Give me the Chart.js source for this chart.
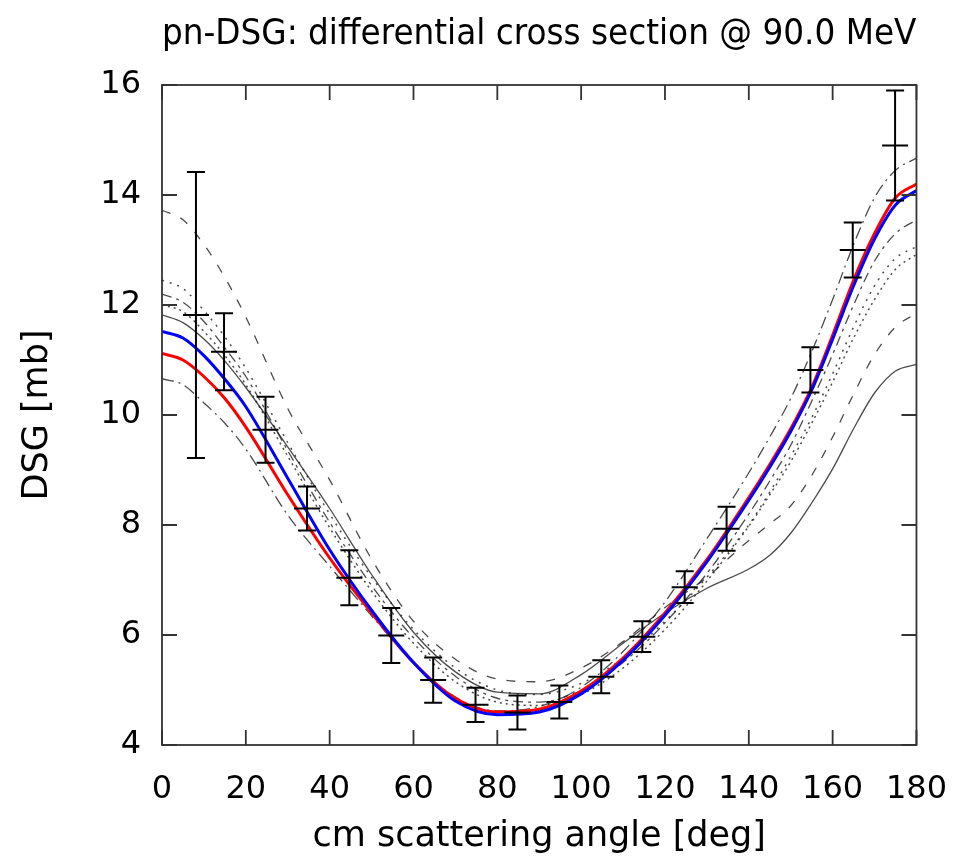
<!DOCTYPE html>
<html>
<head>
<meta charset="utf-8">
<script src="https://cdn.jsdelivr.net/npm/chart.js@4/dist/chart.umd.min.js"></script>
<style>
  html, body { margin: 0; padding: 0; background: #fff; }
</style>
</head>
<body>
<canvas id="c" width="972" height="860"></canvas>
<script>
// model curves: denser samples near 0 and 180 deg where they bend
const angles = [0, 5, 10, 15, 20, 30, 40, 50, 60, 70, 80, 90, 100, 110, 120, 130, 140, 145, 150, 155, 160, 165, 170, 175, 180];
const fitRed  = [11.12, 11.0, 10.7, 10.3, 9.78, 8.55, 7.4, 6.4, 5.5, 4.85, 4.6, 4.65, 4.98, 5.58, 6.4, 7.37, 8.5, 9.1, 9.75, 10.5, 11.45, 12.45, 13.3, 13.95, 14.2];
const fitBlue = [11.52, 11.4, 11.08, 10.65, 10.15, 8.85, 7.55, 6.45, 5.5, 4.8, 4.55, 4.6, 4.93, 5.54, 6.36, 7.33, 8.45, 9.05, 9.7, 10.45, 11.38, 12.35, 13.2, 13.82, 14.08];
const modelDashed  = [13.72, 13.55, 13.1, 12.5, 11.78, 10.12, 8.82, 7.38, 6.25, 5.56, 5.2, 5.15, 5.4, 5.88, 6.5, 7.05, 7.72, 8.02, 8.35, 8.9, 9.6, 10.38, 11.1, 11.6, 11.85];
const modelSolid   = [11.82, 11.68, 11.38, 10.98, 10.5, 9.42, 8.3, 7.1, 6.05, 5.33, 4.96, 4.93, 5.28, 5.85, 6.4, 6.85, 7.2, 7.45, 7.85, 8.4, 9.02, 9.75, 10.4, 10.8, 10.92];
const modelDotted  = [12.45, 12.3, 11.9, 11.42, 10.85, 9.5, 8.2, 7.05, 6.1, 5.4, 5.0, 4.92, 5.12, 5.58, 6.25, 7.05, 8.0, 8.6, 9.25, 9.95, 10.75, 11.6, 12.35, 12.85, 13.06];
const modelDotted2 = [12.0, 11.88, 11.52, 11.08, 10.55, 9.25, 7.95, 6.8, 5.85, 5.15, 4.78, 4.72, 4.92, 5.4, 6.1, 6.98, 7.98, 8.55, 9.15, 9.85, 10.6, 11.4, 12.1, 12.65, 12.92];
const modelDashDot = [12.2, 12.05, 11.7, 11.22, 10.7, 9.35, 8.05, 6.9, 5.95, 5.25, 4.85, 4.78, 5.0, 5.5, 6.22, 7.12, 8.2, 8.8, 9.45, 10.25, 11.1, 12.0, 12.8, 13.3, 13.55];
const modelDashDot2 = [10.66, 10.55, 10.22, 9.85, 9.38, 8.18, 7.25, 6.35, 5.5, 4.87, 4.62, 4.7, 5.05, 5.7, 6.6, 7.75, 8.95, 9.6, 10.3, 11.15, 12.1, 13.1, 13.95, 14.45, 14.67];

// measured points with errors
const expAngle = [8.1, 14.8, 24.7, 34.6, 44.7, 54.7, 64.7, 74.8, 84.8, 94.8, 104.8, 114.6, 124.7, 134.7, 154.7, 164.8, 174.9];
const expValue = [11.82, 11.15, 9.73, 8.30, 7.04, 5.99, 5.18, 4.73, 4.59, 4.78, 5.24, 5.97, 6.87, 7.93, 10.82, 13.0, 14.9];
const expError = [2.6, 0.7, 0.6, 0.4, 0.5, 0.5, 0.41, 0.31, 0.31, 0.3, 0.3, 0.28, 0.29, 0.4, 0.41, 0.5, 1.0];

const xTicks = [0, 20, 40, 60, 80, 100, 120, 140, 160, 180];
const yTicks = [4, 6, 8, 10, 12, 14, 16];

const FONT = 'DejaVu Sans';

function pts(vals) {
  return angles.map((a, i) => ({ x: a, y: vals[i] }));
}

function curve(vals, color, width, dash, order) {
  return {
    data: pts(vals),
    borderColor: color,
    borderWidth: width,
    borderDash: dash,
    pointRadius: 0,
    showLine: true,
    fill: false,
    cubicInterpolationMode: 'monotone',
    order: order
  };
}

const gray = 'rgba(30,30,30,0.8)';

const datasets = [
  {
    data: expAngle.map((a, i) => ({ x: a, y: expValue[i] })),
    pointStyle: 'line',
    pointRadius: 13,
    pointBorderWidth: 2,
    pointBorderColor: '#000',
    showLine: false,
    order: -1
  },
  curve(fitBlue, '#0000ff', 3, [], 0),
  curve(fitRed, '#ff0000', 3, [], 1),
  curve(modelDashed, gray, 1.3, [9, 11], 2),
  curve(modelSolid, gray, 1.3, [], 3),
  curve(modelDotted, gray, 1.5, [2, 6], 4),
  curve(modelDotted2, gray, 1.5, [2, 4], 5),
  curve(modelDashDot, gray, 1.3, [10, 5, 3, 5], 6),
  curve(modelDashDot2, gray, 1.3, [12, 5, 2, 5], 7)
];

// error bars, frame and inward ticks in gnuplot style
const framePlugin = {
  id: 'frame',
  afterDatasetsDraw(chart) {
    const { ctx, chartArea: a, scales: { x, y } } = chart;
    ctx.save();
    ctx.strokeStyle = '#000';
    ctx.lineWidth = 2;
    ctx.beginPath();
    expAngle.forEach((ang, i) => {
      const px = x.getPixelForValue(ang);
      const top = y.getPixelForValue(expValue[i] + expError[i]);
      const bot = y.getPixelForValue(expValue[i] - expError[i]);
      ctx.moveTo(px, top); ctx.lineTo(px, bot);
      ctx.moveTo(px - 9, top); ctx.lineTo(px + 9, top);
      ctx.moveTo(px - 9, bot); ctx.lineTo(px + 9, bot);
    });
    ctx.stroke();

    ctx.strokeStyle = '#333';
    ctx.lineWidth = 1.8;
    ctx.strokeRect(a.left, a.top, a.right - a.left, a.bottom - a.top);
    const len = 15;
    ctx.beginPath();
    xTicks.forEach(v => {
      const p = x.getPixelForValue(v);
      ctx.moveTo(p, a.bottom); ctx.lineTo(p, a.bottom - len);
      ctx.moveTo(p, a.top); ctx.lineTo(p, a.top + len);
    });
    yTicks.forEach(v => {
      const p = y.getPixelForValue(v);
      ctx.moveTo(a.left, p); ctx.lineTo(a.left + len, p);
      ctx.moveTo(a.right, p); ctx.lineTo(a.right - len, p);
    });
    ctx.stroke();
    ctx.restore();
  }
};

new Chart(document.getElementById('c'), {
  type: 'scatter',
  data: { datasets: datasets },
  options: {
    responsive: false,
    animation: false,
    layout: { padding: { left: 0, right: 55, top: 0, bottom: 0 } },
    plugins: {
      legend: { display: false },
      tooltip: { enabled: false },
      title: {
        display: true,
        text: 'pn-DSG: differential cross section @ 90.0 MeV',
        fullSize: false,
        color: '#000',
        font: { family: FONT, size: 35, weight: 'normal' },
        padding: { top: 14, bottom: 29 }
      }
    },
    scales: {
      x: {
        type: 'linear',
        min: 0,
        max: 180,
        afterBuildTicks: s => { s.ticks = xTicks.map(v => ({ value: v })); },
        afterFit: s => { s.height = 115; },
        grid: { display: false, drawTicks: false },
        border: { display: false },
        ticks: { color: '#000', padding: 25, font: { family: FONT, size: 32 } },
        title: {
          display: true,
          text: 'cm scattering angle [deg]',
          color: '#000',
          font: { family: FONT, size: 35 },
          padding: { top: 0, bottom: 2 }
        }
      },
      y: {
        type: 'linear',
        min: 4,
        max: 16,
        afterBuildTicks: s => { s.ticks = yTicks.map(v => ({ value: v })); },
        afterFit: s => { s.width = 162; },
        grid: { display: false, drawTicks: false },
        border: { display: false },
        ticks: { color: '#000', padding: 21, font: { family: FONT, size: 32 } },
        title: {
          display: true,
          text: 'DSG [mb]',
          color: '#000',
          font: { family: FONT, size: 35 },
          padding: { top: 17, bottom: 0 }
        }
      }
    }
  },
  plugins: [framePlugin]
});
</script>
</body>
</html>
